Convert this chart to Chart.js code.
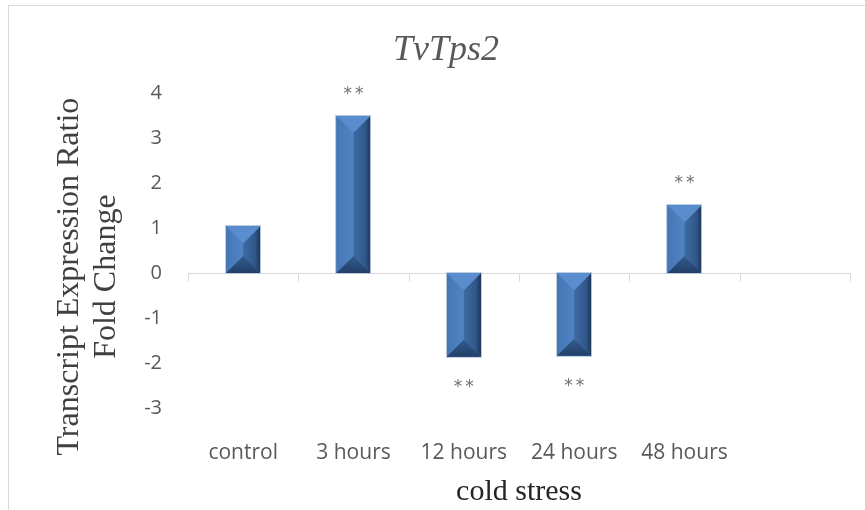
<!DOCTYPE html>
<html><head><meta charset="utf-8">
<script src="https://cdn.jsdelivr.net/npm/chart.js@4"></script>
<style>html,body{margin:0;padding:0;background:#fff}#wrap{width:865px;height:510px}</style>
</head><body><div id="wrap"><canvas id="c" width="865" height="510"></canvas></div>
<script>
const categories = ['control', '3 hours', '12 hours', '24 hours', '48 hours', ''];
const foldChange = [1.04, 3.50, -1.86, -1.84, 1.51, null];
const significance = ['', '**', '**', '**', '**', ''];
const yTicks = [4, 3, 2, 1, 0, -1, -2, -3];
const chartTitle = 'TvTps2';
const yTitleLines = ['Transcript Expression Ratio', 'Fold Change'];
const xTitle = 'cold stress';

const framePlugin = {
  id: 'frame',
  beforeDraw(chart) {
    const ctx = chart.ctx;
    ctx.save();
    ctx.fillStyle = '#fff';
    ctx.fillRect(0, 0, chart.width, chart.height);
    ctx.strokeStyle = '#d9d9d9';
    ctx.lineWidth = 1;
    ctx.strokeRect(8.5, 5.5, chart.width + 50, chart.height + 50);
    ctx.restore();
  }
};

const zeroAxisPlugin = {
  id: 'zeroAxis',
  beforeDatasetsDraw(chart) {
    const ctx = chart.ctx, xs = chart.scales.x, ys = chart.scales.y;
    const y0 = Math.round(ys.getPixelForValue(0)) + 0.5;
    ctx.save();
    ctx.strokeStyle = '#d9d9d9';
    ctx.lineWidth = 1;
    ctx.beginPath();
    ctx.moveTo(chart.chartArea.left, y0);
    ctx.lineTo(chart.chartArea.right, y0);
    for (let i = 0; i <= categories.length; i++) {
      const x = Math.round(xs.getPixelForValue(i - 0.5)) + 0.5;
      ctx.moveTo(x, y0);
      ctx.lineTo(x, y0 + 8);
    }
    ctx.stroke();
    ctx.restore();
  }
};

function poly(ctx, pts, fill) {
  ctx.beginPath();
  ctx.moveTo(pts[0][0], pts[0][1]);
  for (let i = 1; i < pts.length; i++) ctx.lineTo(pts[i][0], pts[i][1]);
  ctx.closePath();
  ctx.fillStyle = fill;
  ctx.fill();
}

const bevelPlugin = {
  id: 'bevel',
  afterDatasetsDraw(chart) {
    const ctx = chart.ctx;
    const meta = chart.getDatasetMeta(0);
    ctx.save();
    meta.data.forEach((el, i) => {
      if (foldChange[i] === null || foldChange[i] === undefined) return;
      const p = el.getProps(['x', 'y', 'base', 'width'], true);
      const L = p.x - p.width / 2, R = p.x + p.width / 2;
      const T = Math.min(p.y, p.base), B = Math.max(p.y, p.base);
      const w = R - L, h = B - T;
      const d = Math.min(w / 2, h / 2);
      ctx.fillStyle = '#4a7dbc';
      ctx.fillRect(L, T, w, h);
      const lg = ctx.createLinearGradient(L, 0, L + d, 0);
      lg.addColorStop(0, '#4677b5');
      lg.addColorStop(1, '#5084c4');
      poly(ctx, [[L, T], [L + d, T + d], [L + d, B - d], [L, B]], lg);
      const rg = ctx.createLinearGradient(R - d, 0, R, 0);
      rg.addColorStop(0, '#3f6ba3');
      rg.addColorStop(0.7, '#30578a');
      rg.addColorStop(1, '#1d3555');
      poly(ctx, [[R, T], [R - d, T + d], [R - d, B - d], [R, B]], rg);
      poly(ctx, [[L, T], [R, T], [R - d, T + d], [L + d, T + d]], '#5a8dcd');
      const bg = ctx.createLinearGradient(0, B - d, 0, B);
      bg.addColorStop(0, '#335c90');
      bg.addColorStop(1, '#223f66');
      poly(ctx, [[L, B], [R, B], [R - d, B - d], [L + d, B - d]], bg);
      ctx.strokeStyle = 'rgba(185,200,222,0.9)';
      ctx.lineWidth = 1;
      ctx.strokeRect(Math.round(L) - 0.5, Math.round(T) - 0.5, Math.round(w) + 1, Math.round(h) + 1);
    });
    ctx.restore();
  }
};

const starPlugin = {
  id: 'stars',
  afterDatasetsDraw(chart) {
    const ctx = chart.ctx;
    const meta = chart.getDatasetMeta(0);
    ctx.save();
    ctx.font = '17px "DejaVu Sans"';
    ctx.fillStyle = '#6f6f6f';
    ctx.textAlign = 'center';
    ctx.textBaseline = 'alphabetic';
    if ('letterSpacing' in ctx) ctx.letterSpacing = '3px';
    meta.data.forEach((el, i) => {
      const s = significance[i];
      if (!s || foldChange[i] === null) return;
      const p = el.getProps(['x', 'y', 'base'], true);
      if (foldChange[i] >= 0) {
        ctx.fillText(s, p.x + 1.5, p.y - 17);
      } else {
        ctx.fillText(s, p.x + 1.5, p.y + 35);
      }
    });
    ctx.restore();
  }
};

const yTitlePlugin = {
  id: 'yTitle',
  afterDraw(chart) {
    const ctx = chart.ctx;
    const ca = chart.chartArea;
    const cy = (ca.top + ca.bottom) / 2 + 26;
    ctx.save();
    ctx.font = '32px "Liberation Serif"';
    ctx.fillStyle = '#404040';
    ctx.textAlign = 'center';
    ctx.textBaseline = 'middle';
    const xs = [70, 107];
    yTitleLines.forEach((line, k) => {
      ctx.save();
      ctx.translate(xs[k], cy);
      ctx.rotate(-Math.PI / 2);
      ctx.fillText(line, 0, 0);
      ctx.restore();
    });
    ctx.restore();
  }
};

new Chart(document.getElementById('c'), {
  type: 'bar',
  data: {
    labels: categories,
    datasets: [{
      data: foldChange,
      backgroundColor: '#4a7dbc',
      borderWidth: 0,
      barPercentage: 0.31,
      categoryPercentage: 1.0
    }]
  },
  options: {
    responsive: false,
    animation: false,
    devicePixelRatio: 1,
    layout: { padding: { left: 42, right: 15, top: 0, bottom: 0 } },
    plugins: {
      legend: { display: false },
      tooltip: { enabled: false },
      title: {
        display: true,
        text: chartTitle,
        color: '#595959',
        font: { family: '"Liberation Serif"', size: 36, style: 'italic', weight: 'normal', lineHeight: 1.2 },
        padding: { top: 29, bottom: 21 }
      }
    },
    scales: {
      x: {
        type: 'category',
        afterFit(scale) { scale.height = 102; },
        grid: { display: false, drawTicks: false },
        border: { display: false },
        ticks: {
          color: '#595959',
          font: { family: '"Open Sans"', size: 21 },
          padding: 32,
          maxRotation: 0,
          autoSkip: false
        },
        title: {
          display: true,
          text: xTitle,
          color: '#262626',
          font: { family: '"Liberation Serif"', size: 30, lineHeight: 1.2 },
          padding: { top: 10, bottom: 0 }
        }
      },
      y: {
        min: -3,
        max: 4,
        afterBuildTicks(scale) { scale.ticks = yTicks.map(v => ({ value: v })); },
        afterFit(scale) { scale.width = 146; },
        grid: { display: false, drawTicks: false },
        border: { display: false },
        ticks: {
          color: '#595959',
          font: { family: '"Open Sans"', size: 20 },
          padding: 26
        }
      }
    }
  },
  plugins: [framePlugin, zeroAxisPlugin, bevelPlugin, starPlugin, yTitlePlugin]
});
</script>
</body></html>
